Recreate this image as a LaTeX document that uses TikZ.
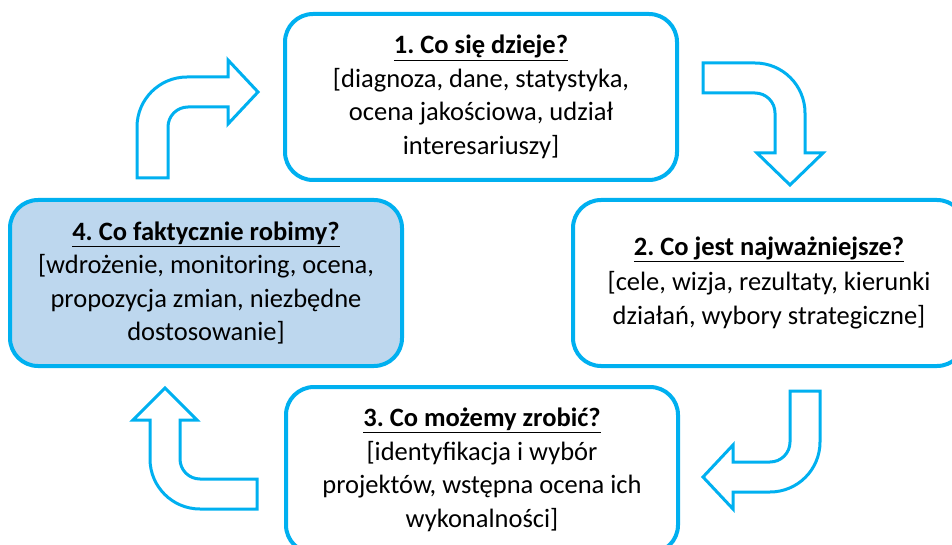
\documentclass[tikz,border=0pt]{standalone}
\usepackage{fontspec}
\setmainfont{Carlito}
\usepackage{tikz}
\usetikzlibrary{positioning}
\definecolor{cyanline}{HTML}{00B0F0}
\definecolor{boxfill}{HTML}{BDD7EE}
\frenchspacing

\begin{document}
\begin{tikzpicture}[x=1pt, y=-1pt,
	box/.style={draw=cyanline, line width=4pt, rounded corners=28pt, fill=white,
		minimum width=392pt, minimum height=166pt, align=center,
		font=\fontsize{26.5}{33.5}\selectfont},
	bigarrow/.style={draw=cyanline, line width=3pt, fill=white, line join=miter}]
	
	% Fix page size
	\useasboundingbox (0,0) rectangle (952,545);
	
	% Draw the four boxes
	\node[box] (q1) at (481,97) {\underline{\textbf{1. Co się dzieje?}}\\{[}diagnoza, dane, statystyka,\\ocena jakościowa, udział\\interesariuszy]};
	\node[box] (q2) at (769,283) {\underline{\textbf{2. Co jest najważniejsze?}}\\[1pt]{[}cele, wizja, rezultaty, kierunki\\[1pt]działań, wybory strategiczne]};
	\node[box] (q3) at (482,470) {\underline{\textbf{3. Co możemy zrobić?}}\\{[}identyfikacja i wybór\\projektów, wstępna ocena ich\\wykonalności]};
	\node[box, fill=boxfill] (q4) at (206,283) {\underline{\textbf{4. Co faktycznie robimy?}}\\{[}wdrożenie, monitoring, ocena,\\propozycja zmian, niezbędne\\dostosowanie]};
	
	% Arrow 4 -> 1
	\draw[bigarrow] (137,178) -- (137,127) arc[start angle=180, end angle=270, radius=50]
		-- (228,77) -- (228,60) -- (258,92) -- (228,124) -- (228,107) -- (188,107)
		arc[start angle=270, end angle=180, radius=20] -- (168,178) -- cycle;
	
	% Arrow 1 -> 2
	\draw[bigarrow] (703,63) -- (755,63) arc[start angle=270, end angle=360, radius=50]
		-- (805,153) -- (823,153) -- (790,185) -- (757,153) -- (775,153) -- (775,113)
		arc[start angle=0, end angle=-90, radius=20] -- (703,93) -- cycle;
	
	% Arrow 2 -> 3
	\draw[bigarrow] (790,391) -- (820,391) -- (820,442) arc[start angle=0, end angle=90, radius=50]
		-- (733,492) -- (733,509) -- (703,477) -- (733,445) -- (733,462) -- (770,462)
		arc[start angle=90, end angle=0, radius=20] -- cycle;
	
	% Arrow 3 -> 4
	\draw[bigarrow] (257,479) -- (257,509) -- (200,509) arc[start angle=90, end angle=180, radius=50]
		-- (150,420) -- (133,420) -- (165,388) -- (197,420) -- (180,420) -- (180,459)
		arc[start angle=180, end angle=90, radius=20] -- cycle;

\end{tikzpicture}
\end{document}
